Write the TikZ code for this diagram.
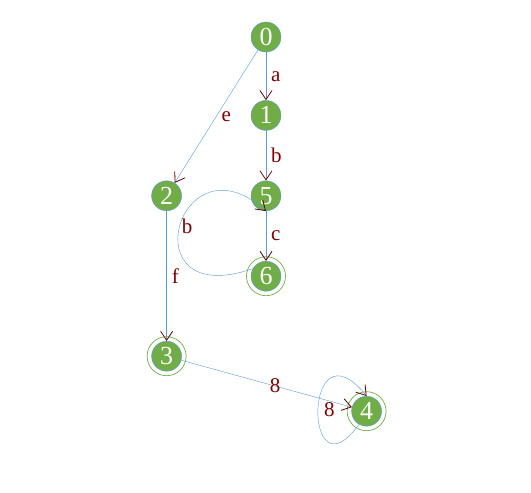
\documentclass[tikz,border=0pt]{standalone}
\usepackage{fontspec}
\setmainfont{Liberation Serif}
\usepackage{tikz}
\usetikzlibrary{arrows.meta}
\usetikzlibrary{positioning,calc}
\definecolor{nodegreen}{RGB}{112,173,71}
\definecolor{lineblue}{RGB}{91,155,213}
\definecolor{labelred}{RGB}{128,0,0}
\definecolor{tipred}{RGB}{100,0,0}
\tikzset{
	every node/.style={font=\fontsize{21}{21}\selectfont,text=labelred,inner sep=2pt}
}
\tikzset{
	->,>={Straight Barb[color=tipred,length=9pt,width=12pt,line width=0.8pt]},line width=0.7pt,
	main node/.style={circle,fill=nodegreen,draw=lineblue,minimum size=30pt,inner sep=0pt,text=white,font=\fontsize{26}{26}\selectfont},
	ring/.style={-,draw=nodegreen,line width=0.7pt}
}
\begin{document}
\begin{tikzpicture}[color=lineblue]
      \useasboundingbox (0pt,0pt) rectangle (531pt,-493pt);
      \node[main node] (n0) at (266pt,-37pt) {0};
      \node[main node] (n1) [below = 48pt of n0] {1};
      \node[main node] (n5) [below = 50pt of n1] {5};
      \node[main node] (n6) [below = 50pt of n5] {6};
      \node[main node] (n2) [left = 69pt of n5] {2};
      \node[main node] (n3) [below = 130pt of n2] {3};
      \node[main node] (n4) at ($(n3)+(200pt,-55pt)$) {4};
      \draw[ring] (n6) circle (19.5pt);
      \draw[ring] (n3) circle (19.5pt);
      \draw[ring] (n4) circle (19.5pt);
      \path (n0) edge node[right=3pt] {a} (n1);
      \path (n1) edge node[right=3pt] {b} (n5);
      \path (n5) edge node[right=3pt] {c} (n6);
      \path (n0) edge node[right=3pt] {e} (n2);
      \path (n2) edge node[right=3pt] {f} (n3);
      \path (n3) edge node[pos=0.55] {8} (n4);
      \draw (n6.150) .. controls (128pt,-312pt) and (178pt,-132pt) .. (n5.south) node[pos=0.5,right] {b};
      \draw (n4.240) .. controls (303pt,-502pt) and (303pt,-318pt) .. (n4.north) node[pos=0.5,right=4pt] {8};
    \end{tikzpicture}
\end{document}
